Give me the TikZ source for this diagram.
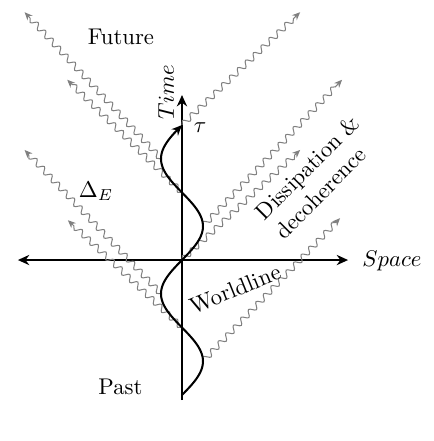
\documentclass[tikz,border=0pt]{standalone}
\usepackage{amsmath,amssymb}
\usepackage{tikz}
\usetikzlibrary{arrows.meta,calc,decorations.pathmorphing}
\tikzset{
  axis/.style={line width=0.8pt},
  photon/.style={gray, line width=0.45pt, decorate,
    decoration={snake, amplitude=1.3pt, segment length=4.8pt, post length=2pt},
    -{Stealth[length=3.5pt,width=3pt]}},
  label/.style={font=\normalsize, inner sep=1pt}
}

\begin{document}
\begin{tikzpicture}[scale=1.044, >=Stealth]
\useasboundingbox (-2.696,-2.681) rectangle (3.719,3.852);
% axes
\coordinate (t0) at (0,-2.074);
\coordinate (t1) at (0,2.444);
\coordinate (s0) at (-2.43,0);
\coordinate (s1) at (2.46,0);
\draw[axis, -{Stealth[length=5pt,width=4.5pt]}] (t0) -- (t1);
\draw[axis, {Stealth[length=5pt,width=4.5pt]}-{Stealth[length=5pt,width=4.5pt]}] (s0) -- (s1);
% emission points along the worldline
\foreach \n/\y in {a/2, b/1.5, c/1, d/0.5, e/0, f/-0.5, g/-1, h/-1.5}
  \coordinate (w\n) at ({0.311*sin(180*\y)},\y);
% photons leaving the worldline at 45 degrees
\foreach \w/\dx/\dy in {b/-2.02/2.17, c/-1.70/1.67, f/-2.02/2.13, g/-1.69/1.59,
                        a/1.75/1.67, d/2.06/2.17, e/1.75/1.63, h/2.03/2.12} {
  \coordinate (p\w) at ($(w\w)+(\dx,\dy)$);
  \draw[photon] (w\w) -- (p\w);
}
% worldline
\draw[line width=0.9pt, -{Stealth[length=4.5pt,width=4pt]}]
  plot[domain=-2:2, samples=120, smooth] ({0.311*sin(180*\x)},\x);
% labels
\node[label] (future) at (-0.904,3.304) {Future};
\node[label] (past) at (-0.911,-1.88) {Past};
\node[label, rotate=90] (time) at (-0.237,2.489) {$Time$};
\node[label] (tau) at (0.267,1.956) {$\tau$};
\node[label] (delta) at (-1.274,1.022) {$\Delta_E$};
\node[label] (space) at (3.11,-0.015) {$Space$};
\node[label, rotate=22] (wl) at (0.785,-0.43) {Worldline};
\node[label, rotate=45, align=left] (diss) at (2.0,1.23) {Dissipation \&\\ decoherence};
\end{tikzpicture}
\end{document}
